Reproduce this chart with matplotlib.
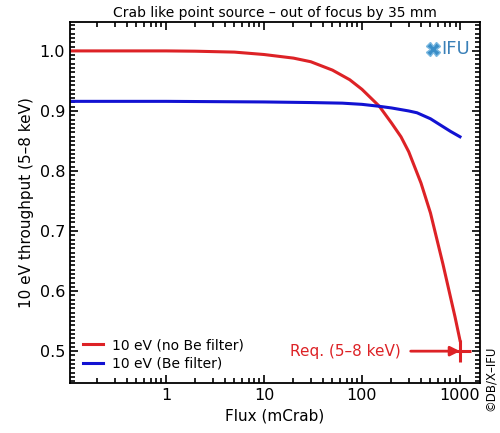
import numpy as np
import matplotlib
matplotlib.use('Agg')
import matplotlib.pyplot as plt
from matplotlib.ticker import LogLocator, FixedLocator, AutoMinorLocator, NullFormatter

# values
flux_red = [0.1, 1, 2, 5, 10, 20, 30, 50, 75, 100, 150, 200, 250, 300, 400, 500, 670, 800, 890, 1000]
no_be = [1.0, 1.0, 0.9995, 0.998, 0.994, 0.988, 0.982, 0.968, 0.952, 0.936, 0.908, 0.88, 0.857,
         0.832, 0.78, 0.73, 0.645, 0.59, 0.557, 0.518]
flux_blue = [0.1, 1, 10, 30, 63, 100, 146, 200, 300, 364, 500, 625, 800, 1000]
be = [0.916, 0.916, 0.915, 0.914, 0.913, 0.911, 0.908, 0.905, 0.9, 0.897, 0.887, 0.877, 0.866, 0.857]
req_flux = 1000
req_level = 0.5

red = '#dd2226'
blue = '#1212d2'

plt.rcParams['font.family'] = ['DejaVu Sans']

fig = plt.figure(figsize=(5, 4.33), dpi=100)
ax = fig.add_axes([0.14, 0.1155, 0.82, 0.8335])

ax.plot(flux_red, no_be, color=red, lw=2.2, label='10 eV (no Be filter)')
ax.plot(flux_blue, be, color=blue, lw=2.2, label='10 eV (Be filter)')

# requirement marker and arrow
ax.plot([req_flux], [req_level], marker='+', ms=16, mew=2.2, color=red)
ax.annotate('Req. (5\u20138 keV)', xy=(req_flux, req_level), xytext=(250, req_level),
            color=red, fontsize=11, ha='right', va='center',
            arrowprops=dict(arrowstyle='-|>', color=red, lw=2, mutation_scale=14,
                            shrinkA=5, shrinkB=0))

ax.set_xscale('log')
ax.set_xlim(0.105, 1600)
ax.set_ylim(0.447, 1.048)

ax.xaxis.set_major_locator(FixedLocator([1, 10, 100, 1000]))
ax.set_xticklabels(['1', '10', '100', '1000'])
ax.xaxis.set_minor_locator(LogLocator(base=10, subs=np.arange(2, 10)))
ax.xaxis.set_minor_formatter(NullFormatter())
ax.set_yticks([0.5, 0.6, 0.7, 0.8, 0.9, 1.0])
ax.yaxis.set_minor_locator(AutoMinorLocator(14))

ax.tick_params(which='both', direction='in', top=True, right=True, labelsize=11.5, width=1.2)
ax.tick_params(which='major', length=6)
ax.tick_params(which='minor', length=3.5)
for s in ax.spines.values():
    s.set_linewidth(1.3)

ax.set_title('Crab like point source \u2013 out of focus by 35 mm', fontsize=10, pad=4)
ax.set_xlabel('Flux (mCrab)', fontsize=11)
ax.set_ylabel('10 eV throughput (5\u20138 keV)', fontsize=11)

ax.legend(loc='lower left', bbox_to_anchor=(0.0, 0.0), frameon=False, fontsize=10,
          handlelength=1.5, handletextpad=0.6, labelspacing=0.3)

# IFU logo stand-in
ax.text(0.905, 0.925, 'IFU', transform=ax.transAxes, color='#3a80b8', fontsize=13,
        ha='left', va='center')
ax.plot([0.885], [0.925], transform=ax.transAxes, marker='X', ms=10, color='#3a8ec8', mec='#7ab8e0')

fig.text(0.98, 0.05, '\u00a9DB/X\u2013IFU', rotation=90, fontsize=8.5, ha='center', va='bottom')

fig.savefig('out.png', dpi=100)
